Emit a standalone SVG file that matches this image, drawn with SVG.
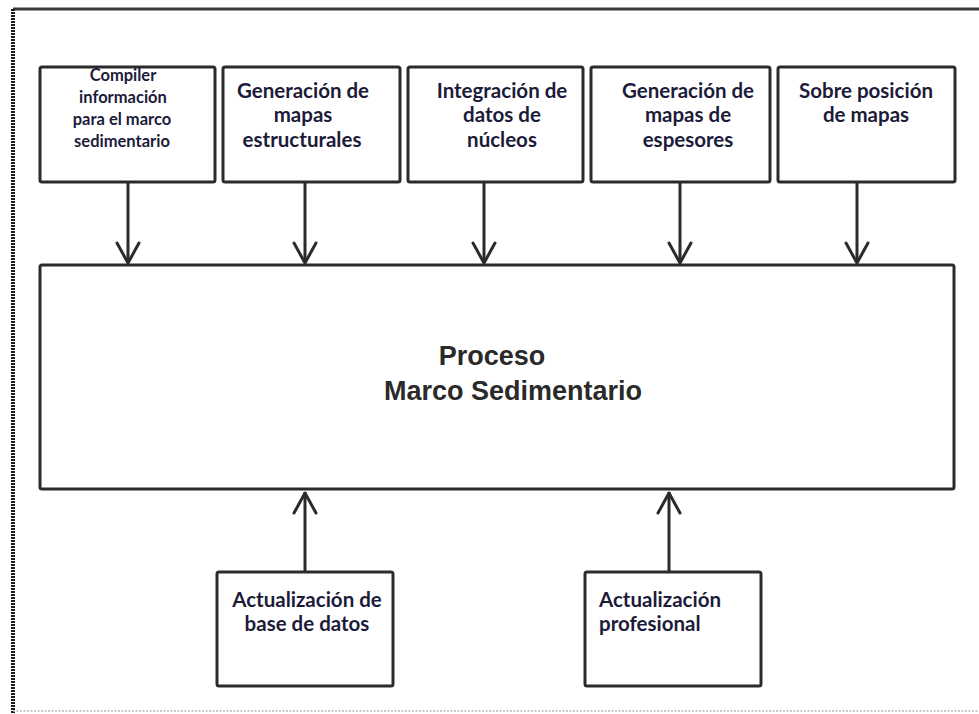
<svg xmlns="http://www.w3.org/2000/svg" width="979" height="714" viewBox="0 0 979 714">
<style>
.box{fill:#fff;stroke:#2b2b2b;stroke-width:3;}
.t{font-family:Lato,"Open Sans","Liberation Sans",sans-serif;font-weight:bold;font-size:20.5px;fill:#1c1c3a;text-anchor:middle;}
.s{font-size:16.5px;}
.l{text-anchor:start;}
.m{font-family:"Liberation Sans",Arial,sans-serif;font-weight:bold;font-size:27px;fill:#2a2a2a;text-anchor:middle;}
.c{stroke:#2b2b2b;stroke-width:3;fill:none;}
.h{stroke:#2b2b2b;stroke-width:3;fill:none;stroke-linecap:round;stroke-linejoin:round;}
</style>
<rect width="979" height="714" fill="#fff"/>
<g id="frame">
<line x1="13" y1="9" x2="979" y2="9" stroke="#3a3a3a" stroke-width="3"/>
<line x1="13" y1="9" x2="13" y2="714" stroke="#1e1e1e" stroke-width="4" stroke-dasharray="2,1"/>
<line x1="13" y1="711" x2="979" y2="711" stroke="#bbb" stroke-width="1.5" stroke-dasharray="2,1.5"/>
</g>
<g id="connectors">
<line class="c" x1="128" y1="182" x2="128" y2="263"/><polyline class="h" points="117,243 128,263 139,243"/>
<line class="c" x1="305" y1="182" x2="305" y2="263"/><polyline class="h" points="294,243 305,263 316,243"/>
<line class="c" x1="484" y1="182" x2="484" y2="263"/><polyline class="h" points="473,243 484,263 495,243"/>
<line class="c" x1="680" y1="182" x2="680" y2="263"/><polyline class="h" points="669,243 680,263 691,243"/>
<line class="c" x1="857" y1="182" x2="857" y2="263"/><polyline class="h" points="846,243 857,263 868,243"/>
<line class="c" x1="305" y1="572" x2="305" y2="492"/><polyline class="h" points="294,513 305,493 316,513"/>
<line class="c" x1="669" y1="572" x2="669" y2="492"/><polyline class="h" points="658,513 669,493 680,513"/>
</g>
<g id="n1"><rect class="box" x="40" y="67" width="175" height="115" rx="2"/>
<text class="t s" x="123" y="81">Compiler</text><text class="t s" x="123" y="103">información</text><text class="t s" x="122" y="125">para  el marco</text><text class="t s" x="122" y="147">sedimentario</text></g>
<g id="n2"><rect class="box" x="223" y="67" width="177" height="115" rx="2"/>
<text class="t" x="303" y="98">Generación de</text><text class="t" x="303" y="122">mapas</text><text class="t" x="302" y="147">estructurales</text></g>
<g id="n3"><rect class="box" x="408" y="67" width="175" height="115" rx="2"/>
<text class="t" x="502" y="98">Integración de</text><text class="t" x="502" y="122">datos de</text><text class="t" x="502" y="147">núcleos</text></g>
<g id="n4"><rect class="box" x="591" y="67" width="179" height="115" rx="2"/>
<text class="t" x="688" y="98">Generación de</text><text class="t" x="688" y="122">mapas de</text><text class="t" x="688" y="147">espesores</text></g>
<g id="n5"><rect class="box" x="778" y="67" width="177" height="115" rx="2"/>
<text class="t" x="866" y="98">Sobre posición</text><text class="t" x="866" y="122">de mapas</text></g>
<g id="main"><rect class="box" x="40" y="265" width="914" height="224" rx="2"/>
<text class="m" x="492" y="365">Proceso</text><text class="m" x="513" y="400">Marco Sedimentario</text></g>
<g id="n6"><rect class="box" x="217" y="572" width="176" height="114" rx="2"/>
<text class="t" x="307" y="607">Actualización de</text><text class="t" x="307" y="631">base de datos</text></g>
<g id="n7"><rect class="box" x="585" y="572" width="176" height="114" rx="2"/>
<text class="t l" x="599" y="607">Actualización</text><text class="t l" x="599" y="631">profesional</text></g>
</svg>
